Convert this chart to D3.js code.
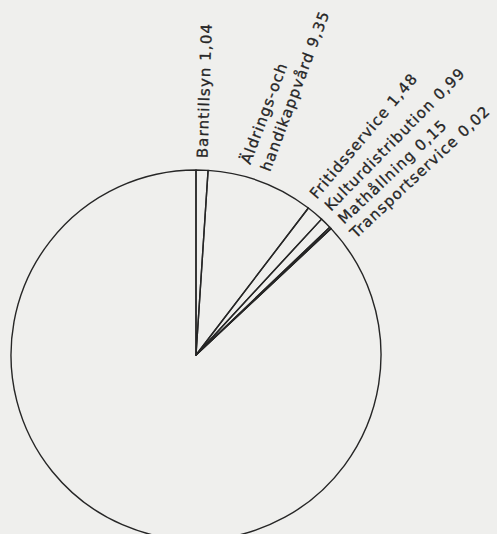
<!DOCTYPE html>
<html>
<head>
<meta charset="utf-8">
<script src="https://cdn.jsdelivr.net/npm/d3@7"></script>
<style>
  body { margin: 0; background: #efefed; }
</style>
</head>
<body>
<script>
const svgWidth = 497
const svgHeight = 534

// slices in drawing order, clockwise from 12 o'clock
const categories = ["Barntillsyn", "Äldrings-och|handikappvård", "Fritidsservice", "Kulturdistribution", "Mathållning", "Transportservice"]
const values = [1.04, 9.35, 1.48, 0.99, 0.15, 0.02]
const valueLabels = ["1,04", "9,35", "1,48", "0,99", "0,15", "0,02"]
const total = 100

const cx = 196, cy = 355, radius = 185

const svg = d3.select("body").append("svg")
  .attr("width", svgWidth)
  .attr("height", svgHeight)

const chartG = svg.append("g")
  .attr("transform", `translate(${cx}, ${cy})`)

const rest = total - d3.sum(values)
const pieData = values.map((v, i) => ({ name: categories[i], value: v, label: valueLabels[i] }))
pieData.push({ name: "", value: rest, label: "" })

const pie = d3.pie().sort(null).value(d => d.value)
const arcs = pie(pieData)

const arc = d3.arc().innerRadius(0).outerRadius(radius)

chartG.selectAll("path")
  .data(arcs)
  .enter()
  .append("path")
  .attr("d", arc)
  .attr("fill", "none")
  .attr("stroke", "#262626")
  .attr("stroke-width", 1.4)
  .attr("stroke-linejoin", "round")

// label angles: start at slice middle, push crowded ones apart
const toDeg = a => a * 180 / Math.PI
const labelled = arcs.filter(d => d.data.name !== "")
const mids = labelled.map(d => toDeg((d.startAngle + d.endAngle) / 2))
const anchors = mids.slice()
const gap = 5.4
for (let it = 0; it < 200; it++) {
  for (let i = 1; i < anchors.length; i++) {
    const diff = anchors[i] - anchors[i - 1]
    if (diff < gap) {
      const push = (gap - diff) / 2
      anchors[i - 1] -= push
      anchors[i] += push
    }
  }
}

const labelR = radius + 12

labelled.forEach((d, i) => {
  const a = anchors[i] * Math.PI / 180
  const x = Math.sin(a) * labelR
  const y = -Math.cos(a) * labelR
  const rot = mids[i] - 90
  const lines = d.data.name.split("|")
  const t = chartG.append("text")
    .attr("transform", `translate(${x}, ${y}) rotate(${rot})`)
    .attr("font-family", "DejaVu Sans, sans-serif")
    .attr("font-size", 15)
    .attr("letter-spacing", 1.1)
    .attr("fill", "#262626")
    .attr("stroke", "#262626")
    .attr("stroke-width", 0.3)
  lines.forEach((ln, j) => {
    const last = j === lines.length - 1
    // nudge by half a cap height so the glyphs sit over the slice middle
    t.append("tspan")
      .attr("x", 0)
      .attr("y", (j - (lines.length - 1)) * 21 + 5)
      .text(last ? `${ln} ${d.data.label}` : ln)
  })
})
</script>
</body>
</html>
